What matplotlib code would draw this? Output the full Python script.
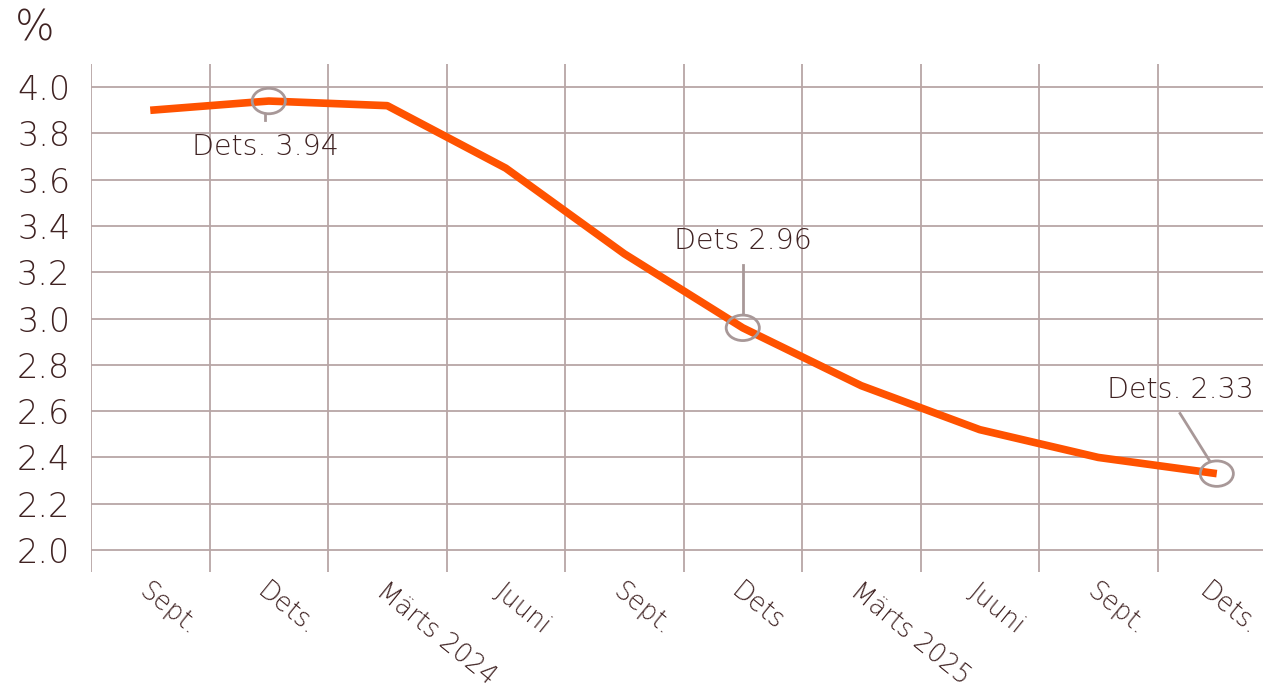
import matplotlib
matplotlib.use("Agg")
import matplotlib.pyplot as plt
import matplotlib.transforms as mtransforms
from matplotlib.patches import Ellipse

categories = ["Sept.", "Dets.", "Märts 2024", "Juuni", "Sept.", "Dets", "Märts 2025", "Juuni", "Sept.", "Dets."]
values = [3.90, 3.94, 3.92, 3.65, 3.28, 2.96, 2.71, 2.52, 2.40, 2.33]
yticks = [2.0, 2.2, 2.4, 2.6, 2.8, 3.0, 3.2, 3.4, 3.6, 3.8, 4.0]
annotations = [(1, "Dets. 3.94"), (5, "Dets 2.96"), (9, "Dets. 2.33")]

TEXT = "#3f2222"
GRID = "#b8a6a6"
LINE = "#ff5200"
CIRC = "#a89898"
FW = 'light'

plt.rcParams['font.family'] = ['DejaVu Sans']

fig = plt.figure(figsize=(12.63, 6.94), dpi=100)
W, H = 1263, 694
ax = fig.add_axes([91 / W, 1 - 572 / H, 1 - 91 / W, (572 - 64) / H])
ax.set_xlim(-0.5, 9.39)
ax.set_ylim(1.905, 4.10)

for s in ax.spines.values():
    s.set_visible(False)

for y in yticks:
    ax.axhline(y, color=GRID, lw=1.3, zorder=1)
for i in range(len(categories)):
    ax.axvline(i - 0.5, color=GRID, lw=1.3, zorder=1)

x = list(range(len(categories)))
ax.plot(x, values, color=LINE, lw=5.5, solid_capstyle='butt', zorder=3)

ax.set_yticks(yticks)
ax.set_yticklabels([f"{v:.1f}" for v in yticks], fontsize=24, color=TEXT, fontweight=FW)
ax.set_xticks(x)
ax.set_xticklabels(categories, fontsize=18.5, color=TEXT, fontweight=FW,
                   rotation=-39, ha='left', va='top', rotation_mode='anchor')
ax.tick_params(axis='both', length=0)
ax.tick_params(axis='y', pad=15)
ax.tick_params(axis='x', pad=5)
labels = ax.get_xticklabels()
for i, lab in enumerate(labels):
    dx = -6 if i == len(labels) - 1 else 0
    off = mtransforms.ScaledTranslation(dx / 100, 0, fig.dpi_scale_trans)
    lab.set_transform(lab.get_transform() + off)

# circles
for idx, _ in annotations:
    e = Ellipse((idx, values[idx]), width=0.28, height=0.11, fill=False,
                edgecolor=CIRC, lw=2, zorder=4)
    ax.add_patch(e)

# leader lines and labels
ax.plot([1 - 0.03, 1 - 0.03], [values[1] - 0.055, values[1] - 0.08], color=CIRC, lw=2, zorder=4)
ax.text(1 - 0.03, 3.74, annotations[0][1], fontsize=20.5, color=TEXT, fontweight=FW,
        ha='center', va='center', zorder=5)

ax.plot([5, 5], [values[5] + 0.06, values[5] + 0.27], color=CIRC, lw=2, zorder=4)
ax.text(5, 3.335, annotations[1][1], fontsize=20.5, color=TEXT, fontweight=FW,
        ha='center', va='center', zorder=5)

ax.plot([8.69, 8.94], [2.59, 2.385], color=CIRC, lw=2, zorder=4)
ax.text(8.69, 2.69, annotations[2][1], fontsize=20.5, color=TEXT, fontweight=FW,
        ha='center', va='center', zorder=5)

fig.text(15 / W, 1 - 28 / H, "%", fontsize=30, color=TEXT, fontweight=FW,
         ha='left', va='center')

fig.savefig("out.png", dpi=100)
